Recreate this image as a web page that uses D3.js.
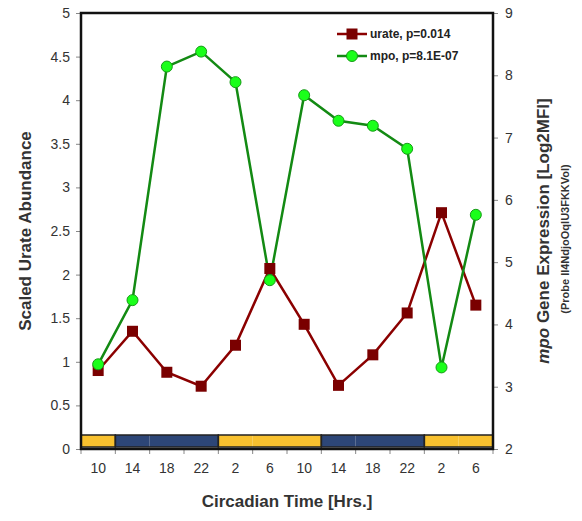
<!DOCTYPE html>
<html><head><meta charset="utf-8">
<script src="https://cdn.jsdelivr.net/npm/d3@7"></script>
<style>body{margin:0;background:#fff}svg{display:block}text{font-family:"Liberation Sans",Arial,sans-serif}</style>
</head><body><svg id="c" width="582" height="521"></svg>
<script>
const hours = ["10","14","18","22","2","6","10","14","18","22","2","6"];
const urate = [0.90,1.35,0.88,0.72,1.19,2.07,1.43,0.73,1.08,1.56,2.71,1.65];
const mpo = [3.36,4.39,8.14,8.38,7.89,4.71,7.68,7.27,7.19,6.82,3.31,5.76];
const phases = ["light","dark","dark","dark","light","light","light","dark","dark","dark","light","light"];
const leftTicks = [0,0.5,1,1.5,2,2.5,3,3.5,4,4.5,5];
const rightTicks = [2,3,4,5,6,7,8,9];
const legendLabels = ["urate, p=0.014","mpo, p=8.1E-07"];

const svg = d3.select("#c");
const L=81, R=493, T=13, B=449;
const idx = d3.range(hours.length);
const x = d3.scaleBand().domain(idx).range([L,R]);
const yL = d3.scaleLinear().domain([0,5]).range([B,T]);
const yR = d3.scaleLinear().domain([2,9]).range([B,T]);
const txt = "#333";

const gl = svg.append("g").attr("transform",`translate(${L},0)`)
  .call(d3.axisLeft(yL).tickValues(leftTicks).tickFormat(d3.format("")).tickSize(5).tickPadding(6));
const gr = svg.append("g").attr("transform",`translate(${R},0)`)
  .call(d3.axisRight(yR).tickValues(rightTicks).tickFormat(d3.format("")).tickSize(5).tickPadding(7));
const gb = svg.append("g").attr("transform",`translate(0,${B})`)
  .call(d3.axisBottom(x).tickFormat(i=>hours[i]).tickSize(0).tickPadding(14));
svg.append("g").selectAll("line").data(d3.range(hours.length+1)).join("line")
  .attr("x1",i=>L+i*x.step()).attr("x2",i=>L+i*x.step())
  .attr("y1",B).attr("y2",B+5).attr("stroke","#888").attr("stroke-width",1);
[gl,gr,gb].forEach(g=>{
  g.select(".domain").remove();
  g.selectAll("text").attr("font-size",14).attr("fill",txt);
  g.selectAll("line").attr("stroke","#888");
});

const stripY = B-14, stripH = 12;
svg.append("g").selectAll("rect").data(idx).join("rect")
  .attr("x",i=>x(i)).attr("width",x.bandwidth()).attr("y",stripY).attr("height",stripH)
  .attr("fill",i=>phases[i]==="light"?"#f8c12f":"#2d4677");
const segs=[]; let s=0;
for(let i=1;i<=phases.length;i++){ if(i===phases.length||phases[i]!==phases[s]){segs.push([s,i]); s=i;} }
svg.append("g").selectAll("rect").data(segs).join("rect")
  .attr("x",d=>x(d[0])).attr("width",d=>x.step()*(d[1]-d[0])).attr("y",stripY).attr("height",stripH)
  .attr("fill","none").attr("stroke","#222").attr("stroke-width",1.5);

svg.append("rect").attr("x",L).attr("y",T).attr("width",R-L).attr("height",B-T)
  .attr("fill","none").attr("stroke","#111").attr("stroke-width",2.5);

const cx = i=>x(i)+x.bandwidth()/2;
svg.append("path").datum(urate).attr("fill","none").attr("stroke","#8b0000").attr("stroke-width",2.5)
  .attr("d",d3.line().x((d,i)=>cx(i)).y(d=>yL(d)));
svg.append("path").datum(mpo).attr("fill","none").attr("stroke","#138a13").attr("stroke-width",2.5)
  .attr("d",d3.line().x((d,i)=>cx(i)).y(d=>yR(d)));
svg.append("g").selectAll("rect").data(urate).join("rect")
  .attr("x",(d,i)=>cx(i)-5.5).attr("y",d=>yL(d)-5.5).attr("width",11).attr("height",11)
  .attr("fill","#7a0000");
svg.append("g").selectAll("circle").data(mpo).join("circle")
  .attr("cx",(d,i)=>cx(i)).attr("cy",d=>yR(d)).attr("r",5.5)
  .attr("fill","#1aff1a").attr("stroke","#179a17").attr("stroke-width",1);

const lg = svg.append("g");
[0,1].forEach(k=>{
  const yy = k===0?34:56;
  lg.append("line").attr("x1",337).attr("x2",367).attr("y1",yy).attr("y2",yy)
    .attr("stroke",k===0?"#8b0000":"#138a13").attr("stroke-width",2.5);
  if(k===0) lg.append("rect").attr("x",346.5).attr("y",yy-5.5).attr("width",11).attr("height",11).attr("fill","#7a0000");
  else lg.append("circle").attr("cx",352).attr("cy",yy).attr("r",5.5).attr("fill","#1aff1a").attr("stroke","#179a17");
  lg.append("text").attr("x",370).attr("y",yy+4).attr("font-size",12).attr("font-weight","bold")
    .attr("fill","#222").text(legendLabels[k]);
});

svg.append("text").attr("transform",`translate(31,${(T+B)/2}) rotate(-90)`).attr("text-anchor","middle")
  .attr("font-size",17).attr("font-weight","bold").attr("fill",txt).text("Scaled Urate Abundance");
const rt = svg.append("text").attr("transform",`translate(549,${(T+B)/2}) rotate(-90)`).attr("text-anchor","middle")
  .attr("font-size",17).attr("font-weight","bold").attr("fill",txt);
rt.append("tspan").attr("font-style","italic").text("mpo");
rt.append("tspan").text(" Gene Expression [Log2MFI]");
svg.append("text").attr("transform",`translate(569,${(T+B)/2+8}) rotate(-90)`).attr("text-anchor","middle")
  .attr("font-size",11).attr("font-weight","bold").attr("fill",txt).text("(Probe Il4NdjoOqlU3FKKVol)");
svg.append("text").attr("x",(L+R)/2).attr("y",507).attr("text-anchor","middle")
  .attr("font-size",17).attr("font-weight","bold").attr("fill",txt).text("Circadian Time [Hrs.]");
</script></body></html>
